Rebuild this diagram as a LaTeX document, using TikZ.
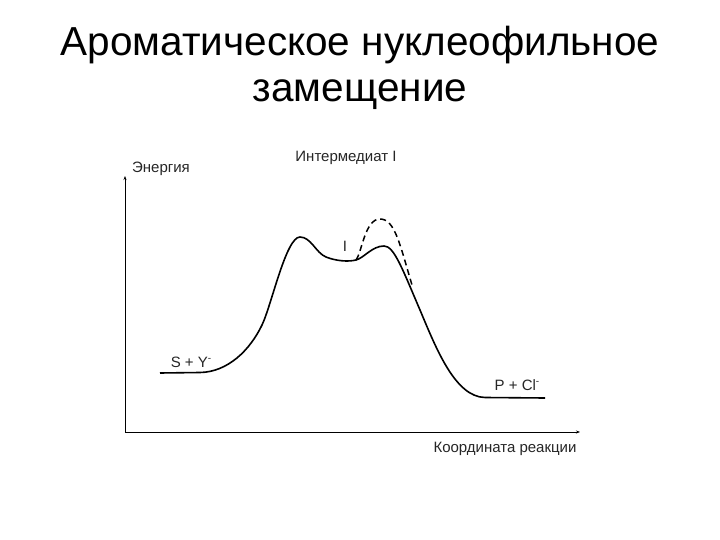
\documentclass[tikz,border=0pt]{standalone}
\usepackage{fontspec}
\setmainfont{Liberation Sans}
\usetikzlibrary{arrows.meta}
\newcommand{\supm}{\raisebox{0.75ex}{\fontsize{10}{10}\selectfont -}}
\begin{document}
\begin{tikzpicture}[x=1pt,y=-1pt,
  title/.style={font=\fontsize{40.5}{46}\selectfont, inner sep=0pt},
  lbl/.style={font=\fontsize{15}{17}\selectfont, inner sep=0pt, text=black!85},
  axis/.style={line width=1pt, -{Stealth[length=4pt,width=3pt]}},
  curve/.style={line width=1.6pt, line join=round},
  dcurve/.style={line width=1.5pt, dash pattern=on 6pt off 4pt}]
\useasboundingbox (0,0) rectangle (720,540);
\fill[white] (0,0) rectangle (720,540);
\node[title] (t1) at (360,45) {Ароматическое нуклеофильное};
\node[title] (t2) at (360,95) {замещение};
\coordinate (o) at (125,432);
\coordinate (yend) at (125,176);
\coordinate (xend) at (580,432);
\draw[axis] (o) -- (yend);
\draw[axis] (o) -- (xend);
\node[lbl] (ylab) at (161,169) {Энергия};
\node[lbl] (xlab) at (505,449) {Координата реакции};
\node[lbl] (int) at (346,158) {Интермедиат I};
\node[lbl] (i1) at (345,246) {I};
\node[lbl] (sy) at (191,362) {S + Y\supm};
\node[lbl] (pcl) at (517,385) {P + Cl\supm};
\coordinate (s0) at (160,373);
\coordinate (s1) at (200,372.5);
\coordinate (r1) at (262,325);
\coordinate (p1) at (300,237);
\coordinate (sh) at (326,257);
\coordinate (v1) at (356,260);
\coordinate (p2) at (384,246);
\coordinate (d1) at (420,310);
\coordinate (e1) at (485,397.5);
\coordinate (e2) at (545,398);
\coordinate (m) at (412,285);
\draw[curve] (s0) -- (s1) .. controls (228,372) and (250,350) .. (r1)
  .. controls (271.6,305) and (286,237) .. (p1)
  .. controls (311,237) and (316,253) .. (sh)
  .. controls (336,261) and (348,262) .. (v1)
  .. controls (364,258) and (372,246) .. (p2)
  .. controls (394,246) and (402,268) .. (d1)
  .. controls (436,348) and (455,397) .. (e1) -- (e2);
\draw[dcurve] (v1) .. controls (362,252) and (365,219) .. (380,219)
  .. controls (395,219) and (400,245) .. (m);
\end{tikzpicture}
\end{document}
